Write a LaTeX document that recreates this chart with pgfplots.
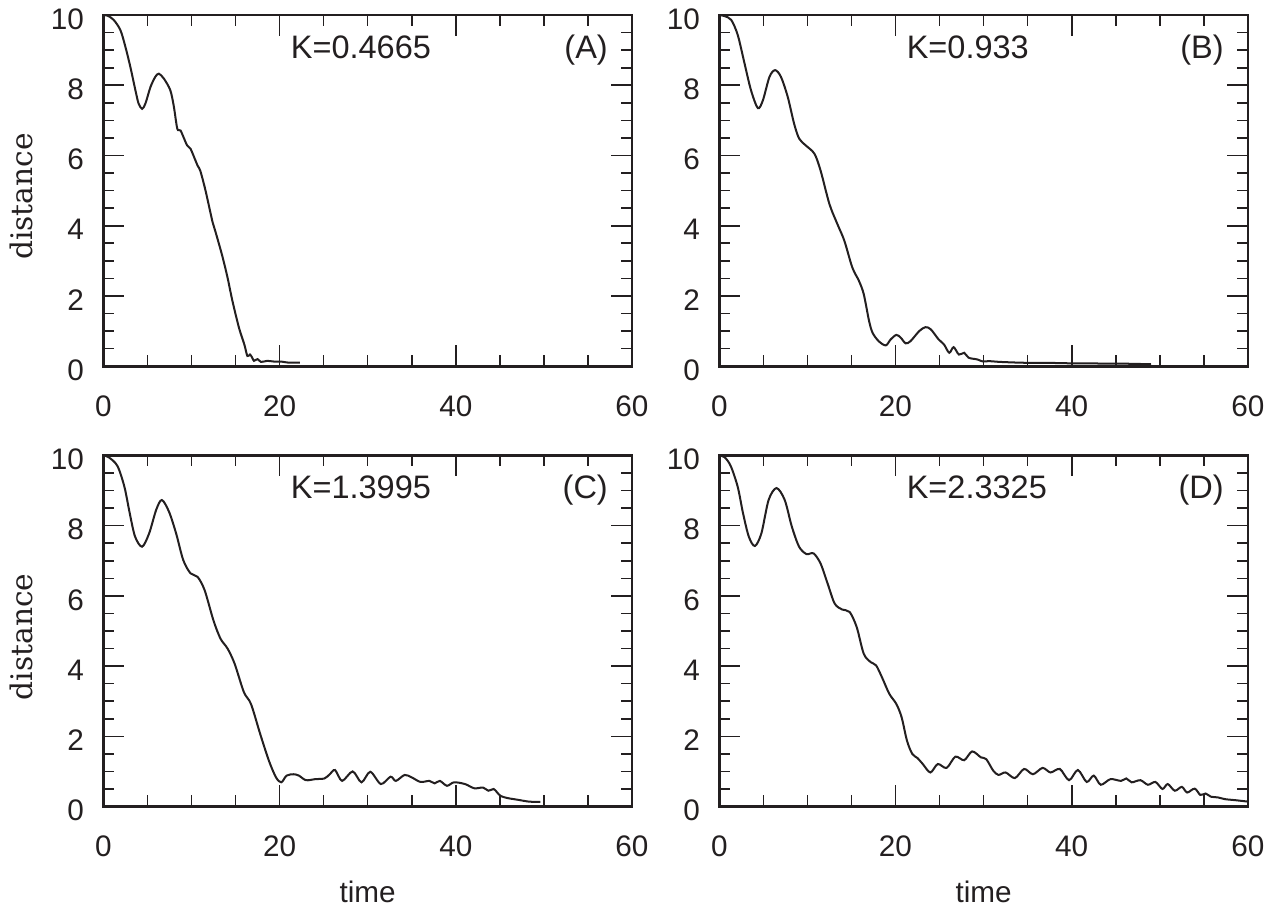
\documentclass[border=0pt]{standalone}
\usepackage{fontspec}
\setmainfont{Liberation Sans}
\newfontfamily\serifl{DejaVu Serif}
\usepackage{pgfplots}
\usepackage{pgfplotstable}
\pgfplotsset{compat=1.18}
\usepgfplotslibrary{groupplots}
\usetikzlibrary{calc}
\definecolor{ink}{HTML}{231F20}

\pgfplotstableread{
t d
0 10
0.5 9.98
1.18 9.86
1.94 9.57
2.5 9.1
3.07 8.52
3.64 7.86
4.0 7.48
4.4 7.33
4.78 7.48
5.35 7.95
5.9 8.24
6.3 8.33
6.87 8.19
7.6 7.86
8.0 7.4
8.4 6.76
8.77 6.71
9.5 6.29
9.9 6.19
10.7 5.71
11.0 5.57
11.6 5.0
12.4 4.1
12.75 3.81
13.5 3.14
14.1 2.52
14.65 1.86
15.4 1.09
16.0 0.62
16.35 0.29
16.65 0.33
16.9 0.24
17.1 0.15
17.5 0.2
17.9 0.12
18.6 0.15
19.4 0.13
20.2 0.13
21.0 0.1
22.3 0.1
}\dataA

\pgfplotstableread{
t d
0 10
0.6 9.97
1.36 9.86
2.1 9.43
2.87 8.62
3.6 7.86
4.38 7.35
4.95 7.57
5.7 8.24
6.34 8.43
7.0 8.24
7.77 7.67
8.5 6.9
9.07 6.48
9.8 6.29
10.8 6.05
11.5 5.57
12.5 4.62
13.4 4.05
14.2 3.57
15.1 2.81
15.85 2.43
16.4 2.05
17.0 1.29
17.4 0.95
18.1 0.71
18.9 0.59
19.45 0.76
20.1 0.89
20.6 0.81
21.15 0.65
21.7 0.71
22.7 1.0
23.4 1.11
24.0 1.05
24.9 0.76
25.5 0.62
26.1 0.38
26.6 0.54
27.2 0.33
27.8 0.38
28.3 0.24
29.3 0.19
29.8 0.14
30.8 0.14
31.9 0.12
34 0.1
36 0.09
38 0.09
40 0.08
42 0.08
44 0.07
46 0.07
48 0.06
49 0.06
}\dataB

\pgfplotstableread{
t d
0 10
0.6 9.95
1.6 9.7
2.4 9.1
3.0 8.35
3.6 7.69
4.4 7.4
5.2 7.78
6.0 8.45
6.64 8.73
7.45 8.4
8.26 7.78
9.07 7.02
9.9 6.64
10.7 6.54
11.5 6.16
12.5 5.3
13.3 4.78
14.1 4.5
14.9 4.07
15.95 3.26
16.76 2.92
17.8 2.07
18.8 1.3
19.6 0.83
20.2 0.69
20.8 0.88
21.6 0.92
22.2 0.88
23.0 0.75
24.05 0.78
25.1 0.8
25.7 0.92
26.3 1.04
27.1 0.73
28.3 1.0
29.3 0.69
30.3 0.99
31.5 0.64
32.6 0.85
33.2 0.73
34.2 0.9
35.0 0.83
36.0 0.7
37.0 0.73
37.6 0.66
38.2 0.73
39.0 0.59
39.8 0.69
41.05 0.64
42.1 0.52
43.1 0.54
43.7 0.45
44.3 0.5
44.7 0.4
45.1 0.3
45.9 0.24
47.1 0.19
48.3 0.14
49.6 0.13
}\dataC

\pgfplotstableread{
t d
0 10
0.6 9.95
1.3 9.7
2.1 9.1
2.7 8.35
3.35 7.69
4.04 7.42
4.78 7.78
5.6 8.73
6.5 9.07
7.43 8.73
8.24 7.97
9.06 7.4
9.9 7.19
10.7 7.21
11.5 6.92
12.3 6.35
13.1 5.78
13.96 5.61
14.8 5.54
15.6 5.11
16.4 4.35
17.2 4.11
17.8 4.02
18.45 3.69
19.3 3.21
20.1 2.92
20.7 2.54
21.3 1.88
21.9 1.5
22.5 1.38
23.1 1.21
23.96 0.97
24.8 1.21
25.8 1.1
26.8 1.42
27.8 1.32
28.7 1.57
29.7 1.4
30.3 1.35
31.1 1.02
31.7 0.9
32.5 0.97
33.55 0.81
34.6 1.07
35.6 0.92
36.7 1.1
37.6 0.97
38.65 1.07
39.7 0.75
40.7 1.04
41.7 0.7
42.5 0.88
43.3 0.62
44.4 0.78
45.6 0.73
46.2 0.8
46.8 0.69
47.8 0.75
48.65 0.62
49.5 0.7
50.3 0.5
50.9 0.64
51.7 0.45
52.5 0.56
53.1 0.4
53.96 0.51
54.6 0.33
55.2 0.37
55.8 0.28
56.6 0.26
57.4 0.21
58.6 0.18
60 0.14
}\dataD

\newcommand{\tickfont}{\fontsize{14.8}{17}\selectfont}
\newcommand{\notefont}{\fontsize{16.2}{19}\selectfont}

\tikzset{
  curve/.style={draw=ink, line width=1pt, smooth, tension=0.5, mark=none},
  notel/.style={font=\notefont, text=ink, inner sep=0pt, anchor=base west},
  noter/.style={font=\notefont, text=ink, inner sep=0pt, anchor=base east},
}

\begin{document}
\begin{tikzpicture}
\begin{groupplot}[
  group style={group size=2 by 2, horizontal sep=43.5pt, vertical sep=44.5pt},
  width=263.5pt, height=175pt, scale only axis,
  xmin=0, xmax=60, ymin=0, ymax=10,
  xtick={0,20,40,60}, ytick={0,2,4,6,8,10},
  minor x tick num=3, minor y tick num=3,
  tick align=inside,
  major tick length=10.5pt, minor tick length=5.5pt,
  axis line style={draw=ink, line width=1.4pt},
  every tick/.style={draw=ink, line width=0.8pt},
  /pgf/number format/assume math mode=true,
  ticklabel style={font=\tickfont, text=ink},
  xticklabel style={inner sep=0pt, anchor=north, yshift=-14.5pt},
  yticklabel style={inner sep=0pt, anchor=east, xshift=-9.5pt, yshift=-2pt},
  xlabel style={font=\tickfont, text=ink, at={(axis description cs:0.5,-0.243)}, anchor=center},
  ylabel style={font=\serifl\tickfont, text=ink, at={(axis description cs:-0.154,0.483)}, anchor=center},
  clip=true,
]
\nextgroupplot[ylabel={distance}]
\addplot[curve] table[x=t,y=d] {\dataA};
\node[notel] at (rel axis cs:0.354,0.877) {K=0.4665};
\node[noter] at (rel axis cs:0.955,0.877) {(A)};
\nextgroupplot
\addplot[curve] table[x=t,y=d] {\dataB};
\node[notel] at (rel axis cs:0.354,0.877) {K=0.933};
\node[noter] at (rel axis cs:0.955,0.877) {(B)};
\nextgroupplot[ylabel={distance}, xlabel={time}]
\addplot[curve] table[x=t,y=d] {\dataC};
\node[notel] at (rel axis cs:0.354,0.877) {K=1.3995};
\node[noter] at (rel axis cs:0.955,0.877) {(C)};
\nextgroupplot[xlabel={time}]
\addplot[curve] table[x=t,y=d] {\dataD};
\node[notel] at (rel axis cs:0.354,0.877) {K=2.3325};
\node[noter] at (rel axis cs:0.955,0.877) {(D)};
\end{groupplot}
\pgfresetboundingbox
\path ($(group c1r1.north west)+(-51.5pt,7.5pt)$) rectangle ($(group c2r2.south east)+(12.5pt,-54.5pt)$);
\end{tikzpicture}
\end{document}
